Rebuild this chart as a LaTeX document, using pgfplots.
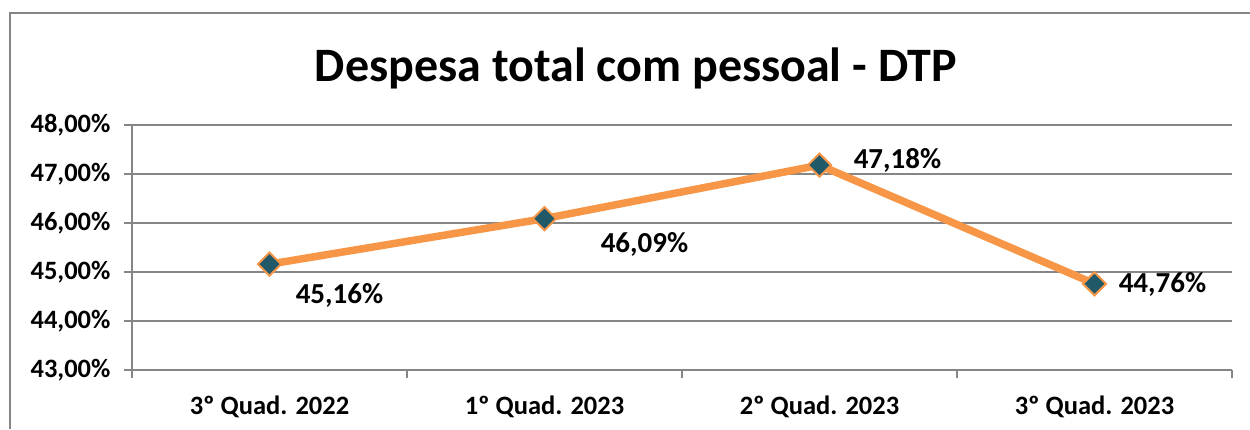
\documentclass[border=0pt]{standalone}
\usepackage{fontspec}
\setmainfont{Carlito}
\usepackage{pgfplots}
\pgfplotsset{compat=1.18}
\definecolor{lineor}{HTML}{F79646}
\definecolor{markteal}{HTML}{215968}
\definecolor{gridg}{HTML}{868686}
\begin{document}
\begin{tikzpicture}[x=1pt,y=1pt]
\path[use as bounding box] (0,0) rectangle (1250,429);
\draw[gridg, line width=2.5pt] (10,0) -- (10,416) -- (1250,416);
\node[font=\fontsize{48}{52}\selectfont\bfseries] at (636,361) {Despesa total com pessoal - DTP};
\begin{axis}[
  at={(132pt,59pt)}, anchor=south west,
  scale only axis, width=1100pt, height=245pt,
  xmin=-0.5, xmax=3.5, ymin=43, ymax=48,
  xtick={0,1,2,3},
  xticklabels={3º Quad. 2022,1º Quad. 2023,2º Quad. 2023,3º Quad. 2023},
  minor xtick={-0.5,0.5,1.5,2.5,3.5},
  ytick={43,44,45,46,47,48},
  yticklabels={{43,00\%},{44,00\%},{45,00\%},{46,00\%},{47,00\%},{48,00\%}},
  ymajorgrids,
  grid style={gridg, line width=2pt},
  axis line style={gridg, line width=2pt},
  axis x line=bottom, axis y line=left,
  x axis line style={-}, y axis line style={-},
  tick align=outside,
  major tick length=8pt, minor tick length=8pt,
  every major x tick/.append style={draw=none},
  every tick/.append style={gridg, line width=2pt},
  tick label style={font=\fontsize{26.5}{30}\selectfont\bfseries},
  xticklabel style={yshift=-14pt},
  yticklabel style={xshift=-10pt},
  clip=false,
]
\addplot[lineor, line width=7.5pt, mark=square*, mark size=8.2pt,
  mark options={fill=markteal, draw=lineor, line width=2pt, rotate=45}]
  coordinates {(0,45.16) (1,46.09) (2,47.18) (3,44.76)};
\begin{scope}[every node/.style={font=\fontsize{29}{32}\selectfont\bfseries}]
\node[xshift=70pt, yshift=-31pt] at (axis cs:0,45.16) {45,16\%};
\node[xshift=100pt, yshift=-26pt] at (axis cs:1,46.09) {46,09\%};
\node[xshift=78pt, yshift=5pt] at (axis cs:2,47.18) {47,18\%};
\node[xshift=68pt, yshift=-1pt] at (axis cs:3,44.76) {44,76\%};
\end{scope}
\end{axis}
\end{tikzpicture}
\end{document}
